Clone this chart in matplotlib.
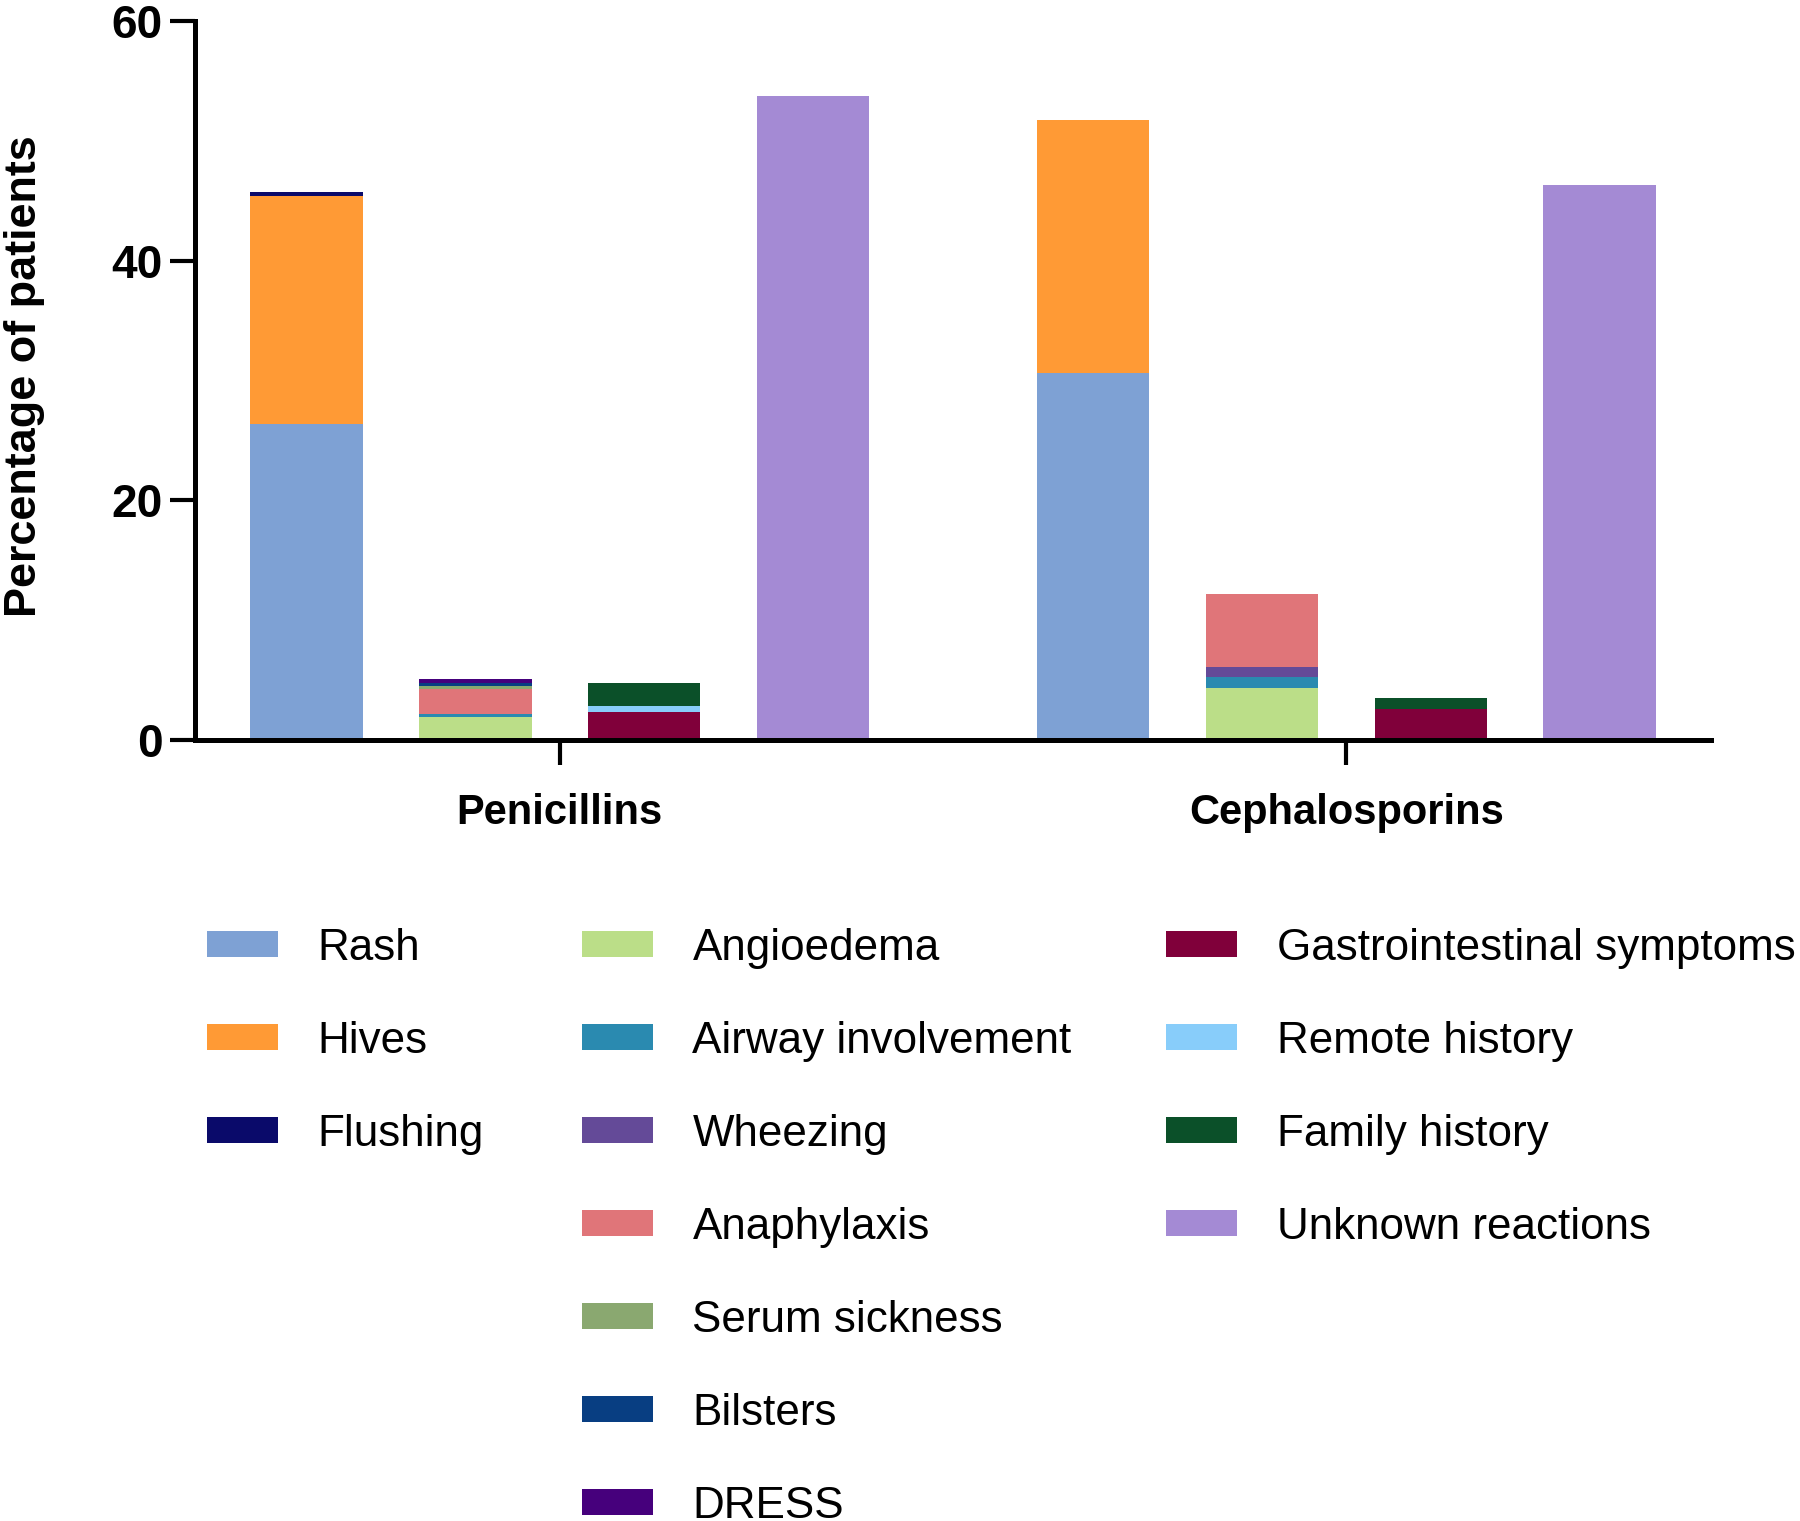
import matplotlib
matplotlib.use('Agg')
import matplotlib.pyplot as plt
from matplotlib.patches import Patch

plt.rcParams['font.family'] = ['Liberation Sans', 'DejaVu Sans']

groups = ['Penicillins', 'Cephalosporins']
categories = ['Rash', 'Hives', 'Flushing',
              'Angioedema', 'Airway involvement', 'Wheezing', 'Anaphylaxis',
              'Serum sickness', 'Bilsters', 'DRESS',
              'Gastrointestinal symptoms', 'Remote history', 'Family history',
              'Unknown reactions']
colors = ['#7ea1d4', '#ff9a35', '#0a0a6a',
          '#bbde88', '#2a8ab0', '#644a98', '#e07579',
          '#8aa870', '#083e82', '#46007c',
          '#80003a', '#88cdfa', '#0b5029',
          '#a48ad4']
# which bar within a group each category is stacked on
bar_of = [0, 0, 0, 1, 1, 1, 1, 1, 1, 1, 2, 2, 2, 3]
penicillin_vals = [26.4, 19.0, 0.3, 1.9, 0.28, 0.0, 2.05, 0.28, 0.25, 0.3,
                   2.36, 0.47, 1.89, 53.7]
cephalosporin_vals = [30.6, 21.1, 0.0, 4.3, 0.97, 0.83, 6.1, 0.0, 0.0, 0.0,
                      2.55, 0.0, 0.92, 46.3]

legend_cols = [[0, 1, 2], [3, 4, 5, 6, 7, 8, 9], [10, 11, 12, 13]]


def main():
    fig = plt.figure(figsize=(18, 15.21), dpi=100)
    ax = fig.add_axes([0.1083, 0.5135, 0.8423, 0.4727])

    group_gap = 1.66
    group_centers = []
    for g, vals in enumerate([penicillin_vals, cephalosporin_vals]):
        start = g * (3 + group_gap)
        bottoms = [0.0] * 4
        for i, v in enumerate(vals):
            b = bar_of[i]
            ax.bar(start + b, v, width=0.667, bottom=bottoms[b], color=colors[i],
                   linewidth=0)
            bottoms[b] += v
        group_centers.append(start + 1.5)

    ax.set_xlim(-0.66, 8.32)
    ax.set_ylim(0, 60)
    ax.set_yticks([0, 20, 40, 60])
    ax.set_xticks(group_centers)
    ax.set_xticklabels(groups, fontsize=30, fontweight='bold')
    for lab in ax.get_yticklabels():
        lab.set_fontsize(33)
        lab.set_fontweight('bold')
    ax.tick_params(axis='both', length=18, width=3, pad=5)
    ax.tick_params(axis='x', pad=20)
    for s in ['top', 'right']:
        ax.spines[s].set_visible(False)
    for s in ['left', 'bottom']:
        ax.spines[s].set_linewidth(3.6)
    ax.set_ylabel('Percentage of patients', fontsize=32.4, fontweight='bold')
    ax.yaxis.set_label_coords(-0.099, 0.506)

    anchors = [0.115, 0.3233, 0.6478]
    for col, x0 in zip(legend_cols, anchors):
        handles = [Patch(facecolor=colors[i], edgecolor='none') for i in col]
        labels = [categories[i] for i in col]
        fig.legend(handles, labels, loc='upper left', bbox_to_anchor=(x0, 0.390),
                   bbox_transform=fig.transFigure, frameon=False, fontsize=31.7,
                   borderpad=0, borderaxespad=0, handlelength=1.61, handleheight=0.55,
                   handletextpad=0.9, labelspacing=1.18)

    fig.savefig('out.png')


main()
